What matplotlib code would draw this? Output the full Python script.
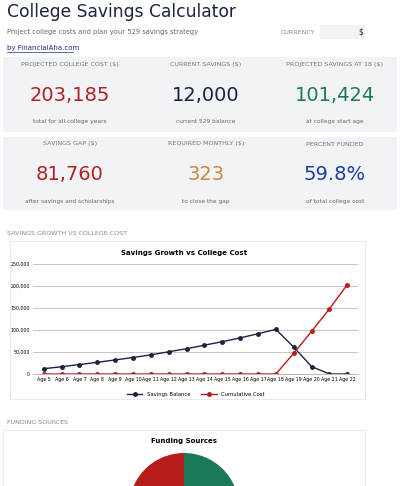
import numpy as np
import matplotlib
matplotlib.use("Agg")
import matplotlib.pyplot as plt
from matplotlib.patches import Rectangle

W, H = 400, 486
ages = [f"Age {a}" for a in range(5, 23)]
savings = [12000, 16500, 21500, 26500, 32000, 37500, 43500, 50500, 57500, 65500,
           73500, 82000, 91500, 101424, 61000, 17000, 0, 0]
cost = [0] * 14 + [47000, 97000, 148000, 203185]
cards = [
    ("PROJECTED COLLEGE COST ($)", "203,185", "total for all college years", "#b22222"),
    ("CURRENT SAVINGS ($)", "12,000", "current 529 balance", "#1a2340"),
    ("PROJECTED SAVINGS AT 18 ($)", "101,424", "at college start age", "#1e7a55"),
    ("SAVINGS GAP ($)", "81,760", "after savings and scholarships", "#b22222"),
    ("REQUIRED MONTHLY ($)", "323", "to close the gap", "#c8893a"),
    ("PERCENT FUNDED", "59.8%", "of total college cost", "#1f3f9a"),
]
fund_labels = ["Savings", "Scholarships", "Gap"]
fund_values = [101424, 20001, 81760]
fund_colors = ["#1a7a58", "#e0a030", "#b71c1c"]

fig = plt.figure(figsize=(W / 100, H / 100), dpi=100)
fig.patch.set_facecolor("white")


def fx(x): return x / W
def fy(y): return 1 - y / H


def box(x0, y0, x1, y1, fc, ec="none"):
    fig.patches.append(Rectangle((fx(x0), fy(y1)), fx(x1 - x0), (y1 - y0) / H,
                                 transform=fig.transFigure, fc=fc, ec=ec, lw=0.6,
                                 zorder=-5))


fig.text(fx(7), fy(12), "College Savings Calculator", fontsize=12.3, color="#1a2340",
         va="center")
fig.text(fx(7), fy(32), "Project college costs and plan your 529 savings strategy",
         fontsize=4.9, color="#666666", va="center")
fig.text(fx(281), fy(32), "CURRENCY", fontsize=4.6, color="#888888", va="center")
box(320, 25, 365, 39, "#f1f2f4")
fig.text(fx(363), fy(32), "$", fontsize=5.5, color="#333333", va="center", ha="right")
fig.text(fx(7), fy(48), "by FinancialAha.com", fontsize=5, color="#1a2a8a",
         va="center")
fig.add_artist(plt.Line2D([fx(7), fx(73)], [fy(52), fy(52)],
                          transform=fig.transFigure, color="#1a2a8a", lw=0.5))

box(3, 57, 397, 132, "#f1f3f6")
box(3, 137, 397, 210, "#f1f3f6")
cols = [70, 206, 335]
for i, (lab, val, sub, c) in enumerate(cards):
    top = 57 if i < 3 else 137
    x = cols[i % 3]
    fig.text(fx(x), fy(top + 7), lab, fontsize=4.6, color="#777777", ha="center", va="center")
    fig.text(fx(x), fy(top + 38), val, fontsize=14, color=c, ha="center", va="center")
    fig.text(fx(x), fy(top + 64), sub, fontsize=4.2, color="#666666", ha="center", va="center")

fig.text(fx(7), fy(233), "SAVINGS GROWTH VS COLLEGE COST", fontsize=4.6, color="#888888",
         va="center")
box(10, 241, 365, 399, "white", "#e6e6e6")
fig.text(fx(184), fy(253), "Savings Growth vs College Cost", fontsize=5,
         fontweight="bold", ha="center", va="center")

ax = fig.add_axes([fx(33), fy(374), fx(358 - 33), (374 - 264) / H])
ax.patch.set_alpha(0)
x = np.arange(len(ages))
ax.plot(x, savings, color="#1a2340", marker="o", ms=2.5, lw=1, label="Savings Balance")
ax.plot(x, cost, color="#b71c1c", marker="o", ms=2.5, lw=1, label="Cumulative Cost")
ax.set_xlim(-0.6, len(ages) - 0.4)
ax.set_ylim(0, 250000)
ax.set_yticks(range(0, 250001, 50000))
ax.set_yticklabels([f"{v:,}" for v in range(0, 250001, 50000)])
ax.set_xticks(x)
ax.set_xticklabels(ages)
ax.tick_params(labelsize=3.4, length=0, pad=2)
ax.grid(axis="y", color="#bbbbbb", lw=0.6)
for s in ax.spines.values():
    s.set_visible(False)
ax.spines["bottom"].set_visible(True)
ax.spines["bottom"].set_color("#bbbbbb")
ax.legend(loc="upper center", bbox_to_anchor=(0.5, -0.12), ncol=2, frameon=False,
          fontsize=3.8, handlelength=3)

fig.text(fx(7), fy(422), "FUNDING SOURCES", fontsize=4.6, color="#888888", va="center")
box(3, 430, 365, 490, "white", "#e6e6e6")
fig.text(fx(184), fy(441), "Funding Sources", fontsize=5, fontweight="bold",
         ha="center", va="center")
pax = fig.add_axes([fx(129), fy(563), fx(110), 110 / H])
pax.pie(fund_values, colors=fund_colors, startangle=90, counterclock=False)
pax.set_xlim(-1, 1)
pax.set_ylim(-1, 1)
pax.set_aspect("equal")

fig.savefig("out.png", dpi=100)
